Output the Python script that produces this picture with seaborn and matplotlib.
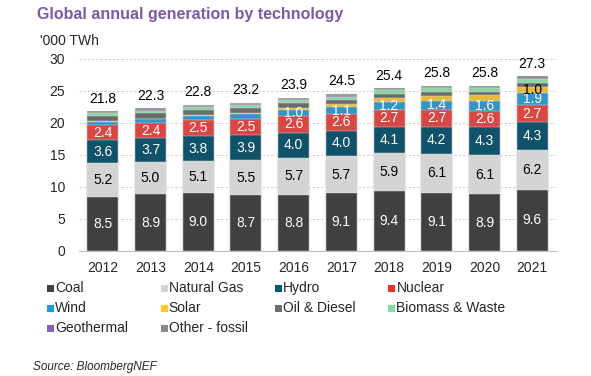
import numpy as np
import pandas as pd
import matplotlib
matplotlib.use("Agg")
import matplotlib.pyplot as plt
from matplotlib.patches import Rectangle
import seaborn as sns

# --- data ('000 TWh) ---
years = ["2012", "2013", "2014", "2015", "2016", "2017", "2018", "2019", "2020", "2021"]
techs = ["Coal", "Natural Gas", "Hydro", "Nuclear", "Wind", "Solar",
         "Oil & Diesel", "Biomass & Waste", "Geothermal", "Other - fossil"]

coal = [8.5, 8.9, 9.0, 8.7, 8.8, 9.1, 9.4, 9.1, 8.9, 9.6]
natural_gas = [5.2, 5.0, 5.1, 5.5, 5.7, 5.7, 5.9, 6.1, 6.1, 6.2]
hydro = [3.6, 3.7, 3.8, 3.9, 4.0, 4.0, 4.1, 4.2, 4.3, 4.3]
nuclear = [2.4, 2.4, 2.5, 2.5, 2.6, 2.6, 2.7, 2.7, 2.6, 2.7]
wind = [0.5, 0.6, 0.7, 0.8, 1.0, 1.1, 1.2, 1.4, 1.6, 1.9]
solar = [0.1, 0.1, 0.2, 0.2, 0.3, 0.4, 0.6, 0.7, 0.8, 1.0]
oil_diesel = [0.8, 0.8, 0.8, 0.8, 0.7, 0.7, 0.7, 0.7, 0.6, 0.6]
biomass = [0.4, 0.4, 0.4, 0.4, 0.5, 0.5, 0.5, 0.5, 0.5, 0.5]
geothermal = [0.1, 0.1, 0.1, 0.1, 0.1, 0.1, 0.1, 0.1, 0.1, 0.1]
other_fossil = [0.2, 0.3, 0.2, 0.3, 0.2, 0.3, 0.2, 0.3, 0.3, 0.4]
totals = [21.8, 22.3, 22.8, 23.2, 23.9, 24.5, 25.4, 25.8, 25.8, 27.3]

colors = ["#404040", "#d4d4d4", "#005a78", "#f0302a", "#1a9ede", "#ffc824",
          "#6b6b6b", "#7ee0a0", "#8b5cb8", "#8a8a8a"]
label_colors = {"Coal": "white", "Natural Gas": "black", "Hydro": "white",
                "Nuclear": "white", "Wind": "white", "Solar": "black"}
min_label = 0.95  # only segments this big get a number

series = [coal, natural_gas, hydro, nuclear, wind, solar,
          oil_diesel, biomass, geothermal, other_fossil]
df = pd.DataFrame(dict(zip(techs, series)), index=years)
cum = df.cumsum(axis=1)

# --- figure ---
sns.set_style("white")
plt.rcParams["font.family"] = ["Liberation Sans", "DejaVu Sans"]

fig = plt.figure(figsize=(5.91, 3.76), dpi=100)
ax = fig.add_axes([79 / 591, 1 - 251 / 376, (556 - 79) / 591, (251 - 59) / 376])

# stacked bars: draw cumulative heights from the top segment down
for tech, col in zip(reversed(techs), reversed(colors)):
    sns.barplot(x=years, y=cum[tech].values, color=col, width=0.65,
                edgecolor="#e4e4e4", linewidth=0.3, ax=ax, zorder=2)

# segment labels
for i, yr in enumerate(years):
    base = 0
    for tech in techs:
        v = df.loc[yr, tech]
        if tech in label_colors and v >= min_label:
            ax.text(i, base + v / 2, f"{v:.1f}", ha="center", va="center",
                    fontsize=10, color=label_colors[tech], zorder=5)
        base += v
    ax.text(i, totals[i] + 0.9, f"{totals[i]:.1f}", ha="center", va="bottom",
            fontsize=10, color="black", zorder=5)

ax.set_ylim(0, 30)
ax.set_xlim(-0.5, len(years) - 0.5)
ax.set_yticks(range(0, 31, 5))
ax.yaxis.grid(True, linestyle=(0, (3, 2)), color="#c8c8c8", linewidth=0.6, zorder=0)
ax.set_axisbelow(True)
for s in ["top", "right", "left"]:
    ax.spines[s].set_visible(False)
ax.spines["bottom"].set_color("#bfbfbf")
ax.spines["bottom"].set_linewidth(0.8)
ax.tick_params(axis="y", length=0, pad=10, labelsize=10)
ax.tick_params(axis="x", which="major", length=0, pad=7, labelsize=10)
ax.set_xticks(np.arange(-0.5, len(years), 1), minor=True)
ax.tick_params(axis="x", which="minor", length=4, color="#bfbfbf", width=0.8)
ax.set_xlabel("")
ax.set_ylabel("")

# titles
fig.text(37 / 591, 1 - 14 / 376, "Global annual generation by technology",
         fontsize=11.5, fontweight="bold", color="#7b5aa6", va="center")
fig.text(40 / 591, 1 - 41 / 376, "'000 TWh", fontsize=10, va="center")

# legend, laid out row by row in 4 columns
for k, (tech, col) in enumerate(zip(techs, colors)):
    r, c = divmod(k, 4)
    x = 47 + c * 113.8
    y = 288 + r * 20
    fig.patches.append(Rectangle((x / 591, 1 - (y + 3.5) / 376), 7 / 591, 7 / 376,
                                 transform=fig.transFigure, facecolor=col,
                                 edgecolor="none"))
    fig.text((x + 8) / 591, 1 - y / 376, tech, fontsize=10, va="center")

fig.text(33 / 591, 1 - 367 / 376, "Source: BloombergNEF", fontsize=8.5,
         style="italic", va="center")

fig.savefig("out.png", dpi=100)
